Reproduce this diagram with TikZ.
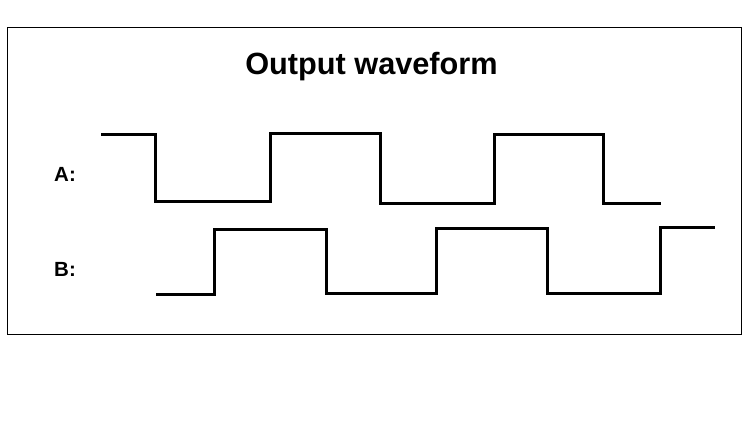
\documentclass[tikz,border=0pt]{standalone}
\usepackage{fontspec}
\setmainfont{Liberation Sans}
\usepackage{tikz}
\tikzset{x=1pt,y=-1pt,
	wave/.style={
		line width=3pt,
		line join=miter
	},
	frame/.style={
		draw,
		line width=1pt
	},
	label/.style={
		font=\fontsize{20.5}{20.5}\selectfont\bfseries,
		anchor=base west,
		inner sep=0pt
	}
}

\begin{document}
\begin{tikzpicture}
		\useasboundingbox (0,0) rectangle (750,439);
		\draw[frame] (7,27) rectangle (741,334);
		\node[font=\fontsize{30.7}{30.7}\selectfont\bfseries, anchor=base, inner sep=0pt] (title) at (371.5,74.3) {Output waveform};
		\node[label] (lblA) at (54,181.7) {A:};
		\node[label] (lblB) at (54,276.7) {B:};
		% channel A
		\draw[wave] (101,134) -| (155,201.5) -| (270,133) -| (380,203) -| (494,134) -| (603,203) -- (661,203);
		% channel B
		\draw[wave] (156,294) -| (214,229) -| (326,293) -| (436,228) -| (547,293) -| (660,227) -- (715,227);
	\end{tikzpicture}
\end{document}
